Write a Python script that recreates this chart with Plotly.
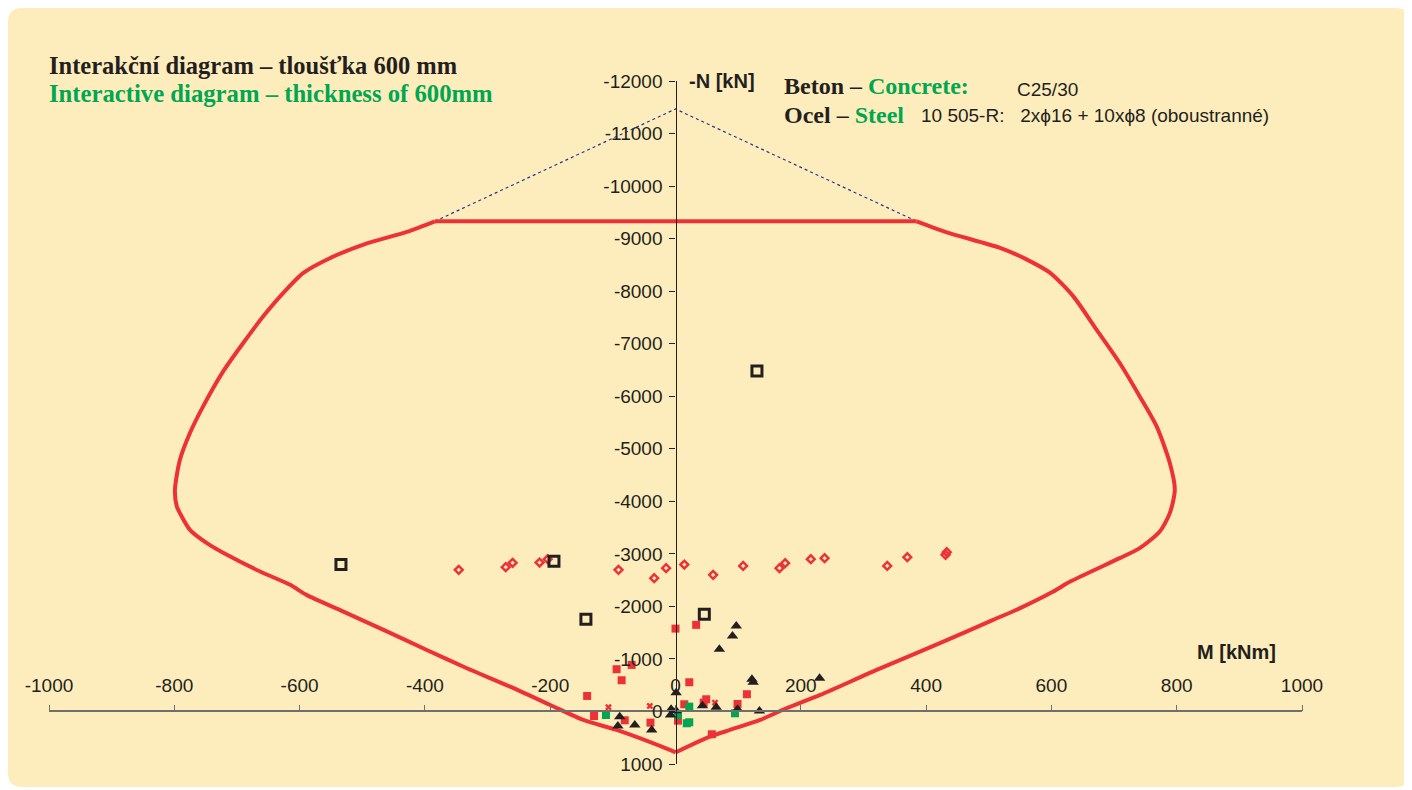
import plotly.graph_objects as go

# ---------------- data ----------------
# interaction diagram boundary (M [kNm], N [kN]; compression negative)
left_M = [-384, -429, -498, -551, -594, -626, -658, -690, -722, -754, -775, -791, -799, -796,
          -791, -775, -748, -716, -663, -615, -589, -530, -466, -397, -333, -264, -200, -147,
          -94, -9, 0]
left_N = [-9330, -9128, -8886, -8632, -8347, -7966, -7520, -7013, -6472, -5806, -5299, -4790,
          -4219, -3901, -3775, -3457, -3204, -2981, -2663, -2410, -2219, -1901, -1552, -1171,
          -823, -472, -124, 162, 352, 733, 780]
right_M = [0, 55, 87, 135, 177, 231, 321, 422, 507, 550, 603, 630, 709, 741, 773, 789,
           797, 789, 768, 741, 709, 672, 635, 598, 561, 518, 433, 385]
right_N = [780, 480, 352, 162, -61, -314, -790, -1299, -1743, -1966, -2282, -2472, -2918,
           -3109, -3425, -3775, -4219, -4728, -5425, -5996, -6632, -7267, -7901, -8347,
           -8600, -8823, -9120, -9330]
top_M = [-384, 385]
top_N = [-9330, -9330]

peak_M = [-384, 0, 385]
peak_N = [-9330, -11467, -9330]

open_sq_M = [-534, -194, -143, 46, 130]
open_sq_N = [-2796, -2861, -1756, -1851, -6481]

diamond_M = [-346, -271, -260, -217, -204, -91, -34, -15, 14, 60, 108, 166, 175, 216, 238,
             338, 370, 431, 433]
diamond_N = [-2695, -2747, -2829, -2834, -2899, -2695, -2537, -2728, -2796, -2600, -2771,
             -2728, -2823, -2899, -2918, -2771, -2937, -2981, -3032]

red_sq_M = [-141, -130, -94, -86, -70, -81, -40, 0, 33, 22, 14, 4, 49, 45, 58, 99, 114]
red_sq_N = [-295, 86, -804, -594, -886, 168, 213, -1577, -1648, -556, -137, 175, -232, -168,
            434, -143, -328]

red_x_M = [-107, -41, 63]
red_x_N = [-80, -105, -168]

green_sq_M = [-111, 22, 18, 22, 4, 95]
green_sq_N = [67, -92, 225, 206, 67, 35]

tri_M = [1, -7, -8, 1, 43, 65, 70, 91, 97, 122, 124, 99, 134, 230, -89, -92, -65, -38]
tri_N = [-358, -42, 67, -15, -110, -80, -1185, -1438, -1629, -613, -556, -42, -10, -632,
         99, 276, 257, 352]

x_tickvals = [-1000, -800, -600, -400, -200, 0, 200, 400, 600, 800, 1000]
x_ticktext = ["-1000", "-800", "-600", "-400", "-200", "0", "200", "400", "600", "800", "1000"]
y_tickvals = [-12000, -11000, -10000, -9000, -8000, -7000, -6000, -5000, -4000, -3000, -2000,
              -1000, 0, 1000]
y_ticktext = ["-12000", "-11000", "-10000", "-9000", "-8000", "-7000", "-6000", "-5000",
              "-4000", "-3000", "-2000", "-1000", "0", "1000"]

# ---------------- styling ----------------
OFF = 8  # page body margin of the html page
W, H = 1412, 790
PL, PR, PT, PB = 49, 1302, 81, 764  # wanted plot area in page pixels
L, T = PL - OFF, PT - OFF
PW, PH = PR - PL, PB - PT
R = W - L - PW
B = H - T - PH

def fx(x):
    return (x - PL) / PW

def fy(y):
    return (PB - y) / PH

RED = "#ED3237"
GREEN = "#00A651"
DARK = "#231F20"
BG = "#FEEDBC"

fig = go.Figure()

fig.add_trace(go.Scatter(x=peak_M, y=peak_N, mode="lines",
                         line=dict(color="#2E3192", width=1.2, dash="dot"),
                         hoverinfo="skip"))
for cm, cn, shape in ((left_M, left_N, "spline"), (right_M, right_N, "spline"),
                      (top_M, top_N, "linear")):
    fig.add_trace(go.Scatter(x=cm, y=cn, mode="lines",
                             line=dict(color=RED, width=4, shape=shape, smoothing=0.7)))
fig.add_trace(go.Scatter(x=diamond_M, y=diamond_N, mode="markers",
                         marker=dict(symbol="diamond-open", size=6, color=RED,
                                     line=dict(width=2.5, color=RED))))
fig.add_trace(go.Scatter(x=red_sq_M, y=red_sq_N, mode="markers",
                         marker=dict(symbol="square", size=8, color=RED)))
fig.add_trace(go.Scatter(x=red_x_M, y=red_x_N, mode="markers",
                         marker=dict(symbol="x", size=6, color=RED)))
fig.add_trace(go.Scatter(x=green_sq_M, y=green_sq_N, mode="markers",
                         marker=dict(symbol="square", size=8, color=GREEN)))
fig.add_trace(go.Scatter(x=tri_M, y=tri_N, mode="markers",
                         marker=dict(symbol="triangle-up", size=10, color=DARK)))
fig.add_trace(go.Scatter(x=open_sq_M, y=open_sq_N, mode="markers",
                         marker=dict(symbol="square-open", size=10, color=DARK,
                                     line=dict(width=3, color=DARK))))

# rounded background panel
x0, x1 = fx(OFF), fx(1410)
y0, y1 = fy(787), fy(OFF)
rx, ry = 14 / PW, 14 / PH
path = (f"M {x0+rx},{y1} L {x1-rx},{y1} Q {x1},{y1} {x1},{y1-ry} "
        f"L {x1},{y0+ry} Q {x1},{y0} {x1-rx},{y0} L {x0+rx},{y0} "
        f"Q {x0},{y0} {x0},{y0+ry} L {x0},{y1-ry} Q {x0},{y1} {x0+rx},{y1} Z")
fig.add_shape(type="path", path=path, xref="paper", yref="paper",
              fillcolor=BG, line=dict(width=0), layer="below")

serif = "Liberation Serif, Times New Roman, serif"
sans = "Liberation Sans, Arial, sans-serif"

def ann(text, x, y, size, family, color=DARK, bold=False):
    fig.add_annotation(text=f"<b>{text}</b>" if bold else text,
                       x=fx(x), y=fy(y), xref="paper", yref="paper",
                       xanchor="left", yanchor="middle", showarrow=False,
                       font=dict(size=size, family=family, color=color))

ann("Interakční diagram – tloušťka 600 mm", 47, 65, 24.5, serif, DARK, True)
ann("Interactive diagram – thickness of 600mm", 47, 93, 24.7, serif, GREEN, True)
ann("-N [kN]", 687, 81, 20, sans, DARK, True)
ann("M [kNm]", 1195, 652, 20, sans, DARK, True)
ann("<b>Beton – </b><b><span style='color:#00A651'>Concrete:</span></b>", 782, 86, 24, serif)
ann("C25/30", 1015, 89, 19, sans)
ann("<b>Ocel – </b><b><span style='color:#00A651'>Steel</span></b>", 782, 115, 24, serif)
ann("10 505-R:   2xϕ16 + 10xϕ8 (oboustranné)", 919, 116, 19, sans)

fig.update_layout(
    width=W, height=H,
    margin=dict(l=L, r=R, t=T, b=B, autoexpand=False),
    paper_bgcolor="white", plot_bgcolor="rgba(0,0,0,0)",
    showlegend=False,
    xaxis=dict(range=[-1000, 1000], anchor="free", position=1000 / 13000, side="top",
               tickvals=x_tickvals, ticktext=x_ticktext, ticks="outside", ticklen=6,
               tickcolor="#6F6F6F", tickwidth=1.2, showline=True, linecolor="#6F6F6F",
               linewidth=1.6, showgrid=False, zeroline=False, automargin=False,
               ticklabelstandoff=5,
               tickfont=dict(size=19, family=sans, color=DARK)),
    yaxis=dict(range=[1000, -12000], anchor="free", position=0.5,
               tickvals=y_tickvals, ticktext=y_ticktext, ticks="outside", ticklen=6,
               tickcolor=DARK, tickwidth=1.2, showline=True, linecolor=DARK,
               linewidth=1.4, showgrid=False, zeroline=False, automargin=False,
               ticklabelstandoff=3,
               tickfont=dict(size=19, family=sans, color=DARK)),
)

fig.write_html("out.html")
